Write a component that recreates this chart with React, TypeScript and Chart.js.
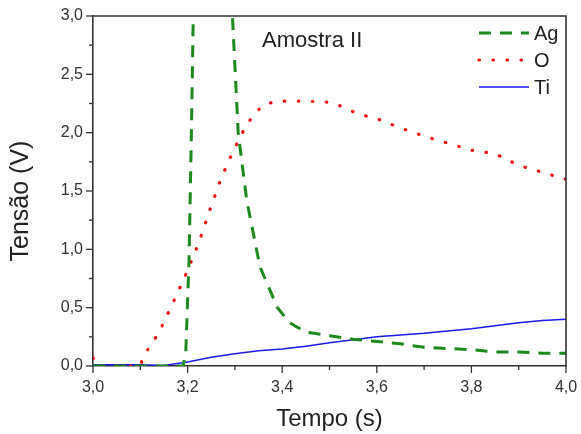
import React, { useEffect, useRef } from 'react';
import { Chart, registerables } from 'chart.js';

Chart.register(...registerables);

// ---- Data ----
const agX = [3.0, 3.05, 3.1, 3.15, 3.19, 3.196, 3.203, 3.208, 3.212, 3.25, 3.29, 3.296, 3.307, 3.325, 3.353, 3.39, 3.416, 3.45, 3.5, 3.55, 3.6, 3.65, 3.7, 3.75, 3.8, 3.85, 3.9, 3.95, 4.0];
const agY = [0.0, 0.0, 0.0, 0.0, 0.0, 0.1, 0.9, 2.0, 3.0, 6.5, 3.4, 2.9, 2.0, 1.42, 0.85, 0.5, 0.37, 0.29, 0.26, 0.23, 0.21, 0.19, 0.16, 0.15, 0.14, 0.12, 0.12, 0.11, 0.11];

const oX = [3.0, 3.01, 3.1, 3.106, 3.14, 3.17, 3.2, 3.218, 3.229, 3.249, 3.27, 3.296, 3.325, 3.34, 3.36, 3.39, 3.45, 3.5, 3.53, 3.56, 3.6, 3.65, 3.7, 3.75, 3.8, 3.85, 3.9, 3.95, 4.0];
const oY = [0.07, 0.0, 0.0, 0.08, 0.29, 0.55, 0.82, 1.0, 1.12, 1.36, 1.6, 1.84, 2.07, 2.15, 2.24, 2.27, 2.27, 2.26, 2.22, 2.16, 2.12, 2.04, 1.97, 1.91, 1.85, 1.82, 1.72, 1.66, 1.6];

const tiX = [3.0, 3.05, 3.1, 3.15, 3.2, 3.25, 3.3, 3.35, 3.4, 3.45, 3.5, 3.55, 3.6, 3.65, 3.7, 3.75, 3.8, 3.85, 3.9, 3.95, 4.0];
const tiY = [0.01, 0.01, 0.01, 0.005, 0.035, 0.075, 0.105, 0.13, 0.145, 0.17, 0.2, 0.225, 0.25, 0.265, 0.28, 0.3, 0.32, 0.345, 0.37, 0.39, 0.4];

const seriesNames = ['Ag', 'O', 'Ti'];
const chartLabel = 'Amostra II';
const xTitle = 'Tempo (s)';
const yTitle = 'Tensão (V)';

const FONT = '"Liberation Sans", Arial, sans-serif';
const AXIS = '#333333';

const toPts = (xs: number[], ys: number[]) => xs.map((x, i) => ({ x, y: ys[i] }));
const fmt = (v: number) => v.toFixed(1).replace('.', ',');

const framePlugin = {
  id: 'frameTicks',
  afterDraw(chart: any) {
    const { ctx, chartArea, scales } = chart;
    const xs = scales.x;
    const ys = scales.y;
    ctx.save();
    ctx.strokeStyle = AXIS;
    ctx.lineWidth = 1.6;
    // frame top & right
    ctx.beginPath();
    ctx.moveTo(chartArea.left, chartArea.top);
    ctx.lineTo(chartArea.right, chartArea.top);
    ctx.lineTo(chartArea.right, chartArea.bottom);
    ctx.stroke();
    ctx.lineWidth = 1.3;
    // x ticks
    for (let i = 0; i <= 10; i++) {
      const v = xs.min + (i * (xs.max - xs.min)) / 10;
      const px = xs.getPixelForValue(v);
      const len = i % 2 === 0 ? 7 : 4;
      ctx.beginPath();
      ctx.moveTo(px, chartArea.bottom);
      ctx.lineTo(px, chartArea.bottom + len);
      ctx.stroke();
    }
    // y ticks
    for (let i = 0; i <= 12; i++) {
      const v = ys.min + (i * (ys.max - ys.min)) / 12;
      const py = ys.getPixelForValue(v);
      const len = i % 2 === 0 ? 7 : 4;
      ctx.beginPath();
      ctx.moveTo(chartArea.left, py);
      ctx.lineTo(chartArea.left - len, py);
      ctx.stroke();
    }
    // y axis title
    ctx.save();
    ctx.fillStyle = '#222';
    ctx.font = `25px ${FONT}`;
    ctx.textAlign = 'center';
    ctx.textBaseline = 'alphabetic';
    ctx.translate(28, 201);
    ctx.rotate(-Math.PI / 2);
    ctx.fillText(yTitle, 0, 0);
    ctx.restore();
    // annotation
    ctx.fillStyle = '#222';
    ctx.font = `22px ${FONT}`;
    ctx.textBaseline = 'alphabetic';
    ctx.textAlign = 'left';
    ctx.fillText(chartLabel, chartArea.left + 169, chartArea.top + 31);
    // legend
    const datasets = chart.data.datasets;
    datasets.forEach((ds: any, i: number) => {
      const y = chartArea.top + 17 + i * 27;
      const x0 = chartArea.right - 87;
      const x1 = chartArea.right - 37;
      ctx.save();
      ctx.strokeStyle = ds.borderColor;
      ctx.lineWidth = ds.borderWidth;
      ctx.lineCap = ds.borderCapStyle || 'butt';
      ctx.setLineDash(ds.borderDash || []);
      ctx.beginPath();
      ctx.moveTo(x0, y);
      ctx.lineTo(x1, y);
      ctx.stroke();
      ctx.restore();
      ctx.fillStyle = '#222';
      ctx.font = `20px ${FONT}`;
      ctx.textBaseline = 'middle';
      ctx.fillText(ds.label, x1 + 5, y + 1);
    });
    ctx.restore();
  },
};

export default function App() {
  const ref = useRef<HTMLCanvasElement | null>(null);
  useEffect(() => {
    if (!ref.current) return;
    const chart = new Chart(ref.current, {
      type: 'line',
      data: {
        datasets: [
          {
            label: seriesNames[0],
            data: toPts(agX, agY),
            borderColor: '#1d8a1d',
            borderWidth: 3,
            borderDash: [12, 9],
            pointRadius: 0,
            tension: 0,
          },
          {
            label: seriesNames[1],
            data: toPts(oX, oY),
            borderColor: '#ee1111',
            borderWidth: 3.2,
            borderDash: [0.5, 13.5],
            borderCapStyle: 'round',
            pointRadius: 0,
            tension: 0,
          },
          {
            label: seriesNames[2],
            data: toPts(tiX, tiY),
            borderColor: '#1a1aee',
            borderWidth: 1.5,
            pointRadius: 0,
            tension: 0,
          },
        ],
      },
      options: {
        animation: false,
        responsive: false,
        devicePixelRatio: 1,
        layout: { padding: { left: 0, top: 16, right: 15, bottom: 0 } },
        plugins: { legend: { display: false }, tooltip: { enabled: false } },
        scales: {
          x: {
            type: 'linear',
            min: 3,
            max: 4,
            grid: { display: false, drawTicks: false, tickLength: 0 },
            border: { display: true, color: AXIS, width: 1.6 },
            ticks: {
              stepSize: 0.2,
              padding: 12,
              color: '#333',
              font: { family: FONT, size: 16 },
              callback: (v: any) => fmt(Number(v)),
              maxRotation: 0,
            },
            title: {
              display: true,
              text: xTitle,
              color: '#222',
              font: { family: FONT, size: 24 },
              padding: { top: 0, bottom: 0 },
            },
            afterFit: (s: any) => {
              s.height = 68;
              s.paddingLeft = 0;
              s.paddingRight = 0;
            },
          },
          y: {
            type: 'linear',
            min: 0,
            max: 3,
            grid: { display: false, drawTicks: false, tickLength: 0 },
            border: { display: true, color: AXIS, width: 1.6 },
            ticks: {
              stepSize: 0.5,
              padding: 10,
              color: '#333',
              font: { family: FONT, size: 16 },
              callback: (v: any) => fmt(Number(v)),
            },
            title: { display: false },
            afterFit: (s: any) => {
              s.width = 93;
              s.paddingTop = 0;
              s.paddingBottom = 0;
            },
          },
        },
      },
      plugins: [framePlugin],
    });
    return () => chart.destroy();
  }, []);
  return (
    <div style={{ position: 'absolute', left: 0, top: 0, width: 581, height: 434, background: '#fff' }}>
      <canvas ref={ref} width={581} height={434} style={{ display: 'block' }} />
    </div>
  );
}
